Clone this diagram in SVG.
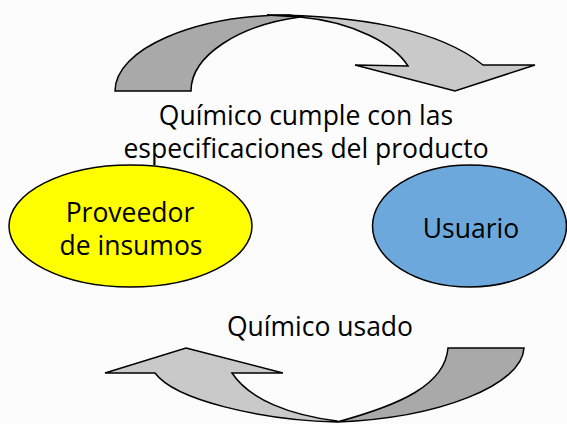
<svg xmlns="http://www.w3.org/2000/svg" width="567" height="424" viewBox="0 0 567 424">
<style>
.t{font-family:"Open Sans","Liberation Sans",sans-serif;font-size:26.5px;fill:#000;text-anchor:middle}
.dk{fill:#a9a9a9;stroke:#000;stroke-width:1.5;stroke-linejoin:miter}
.lt{fill:#c9c9c9;stroke:#000;stroke-width:1.5;stroke-linejoin:miter}
.el{stroke:#000;stroke-width:1.5}
</style>
<rect width="567" height="424" fill="#fcfcfc"/>
<g id="connectors">
<g id="top-arrow">
<path class="dk" d="M115,91 C115,49 194,15 290,15 L300,17 C240,25 191,55 191,91 Z"/>
<path class="lt" d="M267,15 C360,15 440,30 483,65 L535,65 L455,91 L355,65 L408,66 C395,45 355,22 300,17 Z"/>
</g>
<g id="bottom-arrow">
<path class="dk" d="M448,348 L524,348 C522,385 440,418 337,422 C400,405 445,385 448,348 Z"/>
<path class="lt" d="M186,348 L283,373 L232,373 C250,400 290,415 337,421 L337,422 C260,420 175,400 155,373 L105,373 Z"/>
</g>
</g>
<g id="label-top">
<text class="t" x="306" y="125">Químico cumple con las</text>
<text class="t" x="306" y="158">especificaciones del producto</text>
</g>
<g id="label-bottom">
<text class="t" x="320" y="336">Químico usado</text>
</g>
<g id="proveedor">
<ellipse class="el" cx="130.5" cy="226" rx="121.5" ry="61" fill="#ffff00"/>
<text class="t" x="130" y="222">Proveedor</text>
<text class="t" x="131" y="255">de insumos</text>
</g>
<g id="usuario">
<ellipse class="el" cx="469.5" cy="226" rx="97" ry="61" fill="#6ca8db"/>
<text class="t" x="471" y="238">Usuario</text>
</g>
</svg>
